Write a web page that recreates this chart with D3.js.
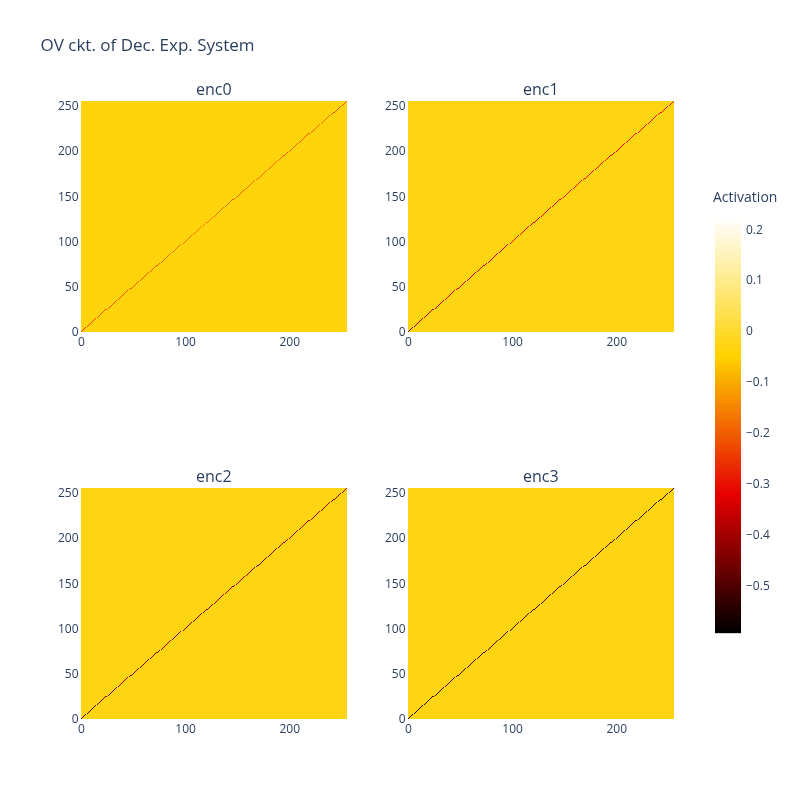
<!DOCTYPE html>
<html><head><meta charset="utf-8">
<script src="https://cdn.jsdelivr.net/npm/d3@7"></script>
<style>
html,body{margin:0;padding:0;background:#fff;}
#wrap{position:relative;width:800px;height:800px;}
canvas,svg{position:absolute;left:0;top:0;}
</style></head>
<body><div id="wrap"><canvas id="cv" width="800" height="800"></canvas><svg id="sv" width="800" height="800"></svg></div>
<script>
// ---- data ----
const encoders = ["enc0", "enc1", "enc2", "enc3"];
const N = 256;
// mean off-diagonal activation per encoder
const background = [-0.037, -0.03, -0.03, -0.03];
// diagonal activation, 16 segments of 16 cells each
const diag0 = [-0.24,-0.22,-0.21,-0.21,-0.2,-0.18,-0.18,-0.16,-0.18,-0.2,-0.18,-0.18,-0.2,-0.21,-0.18,-0.21];
const diag1 = [-0.42,-0.38,-0.34,-0.34,-0.38,-0.34,-0.3,-0.34,-0.34,-0.3,-0.3,-0.3,-0.34,-0.3,-0.3,-0.3];
const diag2 = [-0.5,-0.45,-0.44,-0.44,-0.44,-0.44,-0.44,-0.44,-0.4,-0.44,-0.44,-0.44,-0.4,-0.4,-0.4,-0.42];
const diag3 = [-0.58,-0.55,-0.5,-0.5,-0.5,-0.5,-0.5,-0.5,-0.5,-0.5,-0.5,-0.5,-0.5,-0.52,-0.55,-0.55];
const diagonals = [diag0, diag1, diag2, diag3];
const zmin = -0.594, zmax = 0.222;
const xTicks = [0, 100, 200];
const yTicks = [0, 50, 100, 150, 200, 250];
const cbTicks = [0.2, 0.1, 0, -0.1, -0.2, -0.3, -0.4, -0.5];
const colorRange = ["rgb(0,0,0)", "rgb(230,0,0)", "rgb(255,210,0)", "rgb(255,255,255)"];

// ---- layout ----
const panels = [
  {x0: 80.5, x1: 347, y0: 101, y1: 332},
  {x0: 407.5, x1: 674, y0: 101, y1: 332},
  {x0: 80.5, x1: 347, y0: 488, y1: 719},
  {x0: 407.5, x1: 674, y0: 488, y1: 719}
];
const font = "'Open Sans', 'Noto Sans', sans-serif";
const txt = "#2a3f5f";

const color = d3.scaleLinear()
  .domain(colorRange.map((c, i) => zmin + i / (colorRange.length - 1) * (zmax - zmin)))
  .range(colorRange).clamp(true);

const cv = document.getElementById("cv");
const ctx = cv.getContext("2d");
const svg = d3.select("#sv");

svg.append("text").attr("x", 40.5).attr("y", 50.5)
  .attr("font-family", font).attr("font-size", 17).attr("fill", txt)
  .text("OV ckt. of Dec. Exp. System");

encoders.forEach((name, k) => {
  const p = panels[k];
  const x = d3.scaleLinear().domain([-0.5, N - 0.5]).range([p.x0, p.x1]);
  const y = d3.scaleLinear().domain([-0.5, N - 0.5]).range([p.y1, p.y0]);
  const off = document.createElement("canvas");
  off.width = N; off.height = N;
  const octx = off.getContext("2d");
  const img = octx.createImageData(N, N);
  for (let r = 0; r < N; r++) {
    for (let c = 0; c < N; c++) {
      const v = (r === c) ? diagonals[k][Math.floor(r / 16)] : background[k];
      const col = d3.rgb(color(v));
      const row = N - 1 - r;
      const idx = (row * N + c) * 4;
      img.data[idx] = col.r; img.data[idx+1] = col.g; img.data[idx+2] = col.b; img.data[idx+3] = 255;
    }
  }
  octx.putImageData(img, 0, 0);
  ctx.imageSmoothingEnabled = false;
  ctx.drawImage(off, x(-0.5), y(N - 0.5), x(N - 0.5) - x(-0.5), y(-0.5) - y(N - 0.5));

  svg.append("text").attr("x", (p.x0 + p.x1) / 2).attr("y", p.y0 - 6)
    .attr("text-anchor", "middle").attr("font-family", font).attr("font-size", 16)
    .attr("fill", txt).text(name);

  const gx = svg.append("g").attr("transform", `translate(0,${p.y1})`)
    .call(d3.axisBottom(x).tickValues(xTicks).tickSize(0).tickPadding(5).tickFormat(d3.format("d")));
  const gy = svg.append("g").attr("transform", `translate(${p.x0},0)`)
    .call(d3.axisLeft(y).tickValues(yTicks).tickSize(0).tickPadding(2).tickFormat(d3.format("d")));
  [gx, gy].forEach(g => {
    g.select(".domain").remove();
    g.selectAll("text").attr("font-family", font).attr("font-size", 12).attr("fill", txt);
  });
});

// ---- colorbar ----
const cbX0 = 715, cbW = 26, cbTop = 218, cbBot = 633;
const cb = d3.scaleLinear().domain([zmin, zmax]).range([cbBot, cbTop]);
const nSteps = 415;
const steps = d3.range(nSteps).map(i => zmin + (i + 0.5) / nSteps * (zmax - zmin));
svg.append("g").selectAll("rect").data(steps).join("rect")
  .attr("x", cbX0).attr("width", cbW)
  .attr("y", d => cb(d) - 0.7).attr("height", 1.4)
  .attr("fill", d => color(d));
const gcb = svg.append("g").attr("transform", `translate(${cbX0 + cbW},0)`)
  .call(d3.axisRight(cb).tickValues(cbTicks).tickSize(0).tickPadding(5)
    .tickFormat(d => d3.format(".1f")(d).replace("-", "\u2212").replace(/^0\.0$/, "0").replace(/\.0$/, "")));
gcb.select(".domain").remove();
gcb.selectAll("text").attr("font-family", font).attr("font-size", 12).attr("fill", txt);
svg.append("text").attr("x", 713).attr("y", 202)
  .attr("font-family", font).attr("font-size", 14).attr("fill", txt).text("Activation");
</script></body></html>
